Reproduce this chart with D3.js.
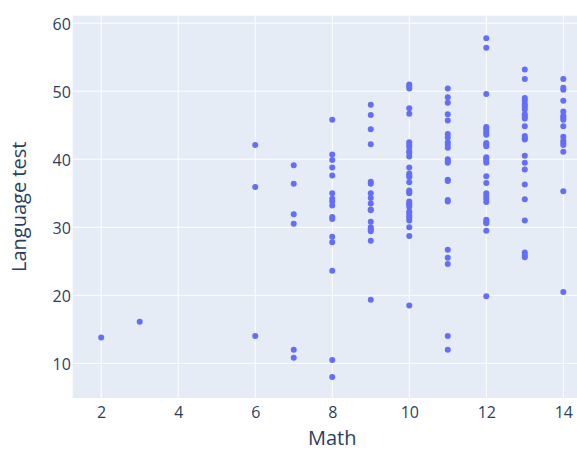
<!DOCTYPE html>
<html><head><meta charset="utf-8">
<script src="https://cdn.jsdelivr.net/npm/d3@7"></script>
<style>html,body{margin:0;padding:0;background:#fff;overflow:hidden}</style>
</head><body>
<svg id="chart" width="577" height="450"></svg>
<script>
// Language test scores grouped by Math score
const mathScores = [2, 3, 6, 7, 8, 9, 10, 11, 12, 13, 14];
const lang2 = [13.8];
const lang3 = [16.1];
const lang6 = [42.1, 35.9, 14.0];
const lang7 = [39.1, 36.4, 31.9, 30.5, 12.0, 10.8];
const lang8 = [45.8, 40.7, 39.9, 38.8, 37.6, 35.0, 34.2, 33.8, 33.2, 31.5, 31.2, 28.6, 27.8, 23.6, 10.5, 8.0];
const lang9 = [48.0, 46.5, 44.4, 42.2, 36.7, 36.4, 35.0, 34.3, 33.5, 32.6, 32.5, 30.8, 30.0, 29.7, 29.4, 28.0, 19.35];
const lang10 = [51.0, 50.7, 50.4, 47.5, 46.7, 42.5, 42.1, 41.8, 41.2, 40.9, 40.4, 38.8, 37.9, 37.6, 37.4, 36.6, 35.4, 35.2, 35.0, 33.8, 33.5, 33.3, 33.0, 32.3, 32.1, 31.7, 31.4, 31.0, 30.0, 28.7, 18.5];
const lang11 = [50.4, 49.1, 48.3, 46.6, 45.7, 43.7, 43.2, 42.5, 42.1, 41.7, 40.0, 39.7, 39.5, 37.0, 36.8, 34.0, 33.8, 26.7, 25.5, 24.6, 14.0, 12.0];
const lang12 = [57.8, 56.4, 49.6, 44.75, 44.5, 44.2, 43.9, 43.6, 42.4, 42.2, 41.9, 40.3, 40.1, 39.8, 39.5, 37.5, 36.5, 35.0, 34.6, 34.2, 33.7, 31.1, 30.8, 30.6, 29.5, 19.85];
const lang13 = [53.2, 51.8, 49.0, 48.6, 48.1, 47.7, 47.3, 46.6, 46.3, 46.0, 44.85, 43.4, 43.1, 42.9, 40.5, 39.5, 38.5, 36.3, 34.1, 31.0, 26.3, 25.9, 25.6];
const lang14 = [51.8, 50.5, 50.2, 48.6, 47.0, 46.4, 46.1, 45.8, 44.85, 43.3, 42.7, 42.4, 42.1, 41.1, 35.3, 20.5];
const languageByMath = [lang2, lang3, lang6, lang7, lang8, lang9, lang10, lang11, lang12, lang13, lang14];

const xTicks = [2, 4, 6, 8, 10, 12, 14];
const yTicks = [10, 20, 30, 40, 50, 60];
const xTitle = "Math";
const yTitle = "Language test";

const points = [];
mathScores.forEach((m, i) => languageByMath[i].forEach(v => points.push({x: m, y: v})));

const L = 72.7, R = 591.8, T = 15.7, B = 398;
const svg = d3.select("#chart");
const font = "'Open Sans', verdana, arial, sans-serif";
const textColor = "#2a3f5f";

const x = d3.scaleLinear().domain([1.26, 14.74]).range([L, R]);
const y = d3.scaleLinear().domain([4.9, 61.1]).range([B, T]);

svg.append("rect").attr("x", L).attr("y", T).attr("width", R - L).attr("height", B - T).attr("fill", "#E5ECF6");

// grid
const grid = svg.append("g");
grid.selectAll("line.xg").data(xTicks).join("line")
  .attr("x1", d => x(d)).attr("x2", d => x(d)).attr("y1", T).attr("y2", B)
  .attr("stroke", "#fff").attr("stroke-width", 1);
grid.selectAll("line.yg").data(yTicks).join("line")
  .attr("x1", L).attr("x2", R).attr("y1", d => y(d)).attr("y2", d => y(d))
  .attr("stroke", "#fff").attr("stroke-width", 1);

// axes (labels only, Plotly style)
const xAxis = svg.append("g").attr("transform", `translate(0,${B})`)
  .call(d3.axisBottom(x).tickValues(xTicks).tickSize(0).tickPadding(0).tickFormat(d3.format("d")));
xAxis.select(".domain").remove();
xAxis.selectAll("text").attr("dy", null).attr("y", 20.3).attr("font-family", font).attr("font-size", 16).attr("fill", textColor);

const yAxis = svg.append("g").attr("transform", `translate(${L},0)`)
  .call(d3.axisLeft(y).tickValues(yTicks).tickSize(0).tickPadding(0).tickFormat(d3.format("d")));
yAxis.select(".domain").remove();
yAxis.selectAll("text").attr("dy", null).attr("x", -1.8).attr("y", 6.6).attr("font-family", font).attr("font-size", 16).attr("fill", textColor);

// points
svg.append("g").selectAll("circle").data(points).join("circle")
  .attr("cx", d => x(d.x)).attr("cy", d => y(d.y)).attr("r", 3)
  .attr("fill", "#636efa");

// titles
svg.append("text").attr("x", (L + R) / 2).attr("y", 445).attr("text-anchor", "middle")
  .attr("font-family", font).attr("font-size", 20).attr("fill", textColor).text(xTitle);
svg.append("text").attr("transform", `translate(25.5,${(T + B) / 2}) rotate(-90)`).attr("text-anchor", "middle")
  .attr("font-family", font).attr("font-size", 20).attr("fill", textColor).text(yTitle);
</script>
</body></html>
